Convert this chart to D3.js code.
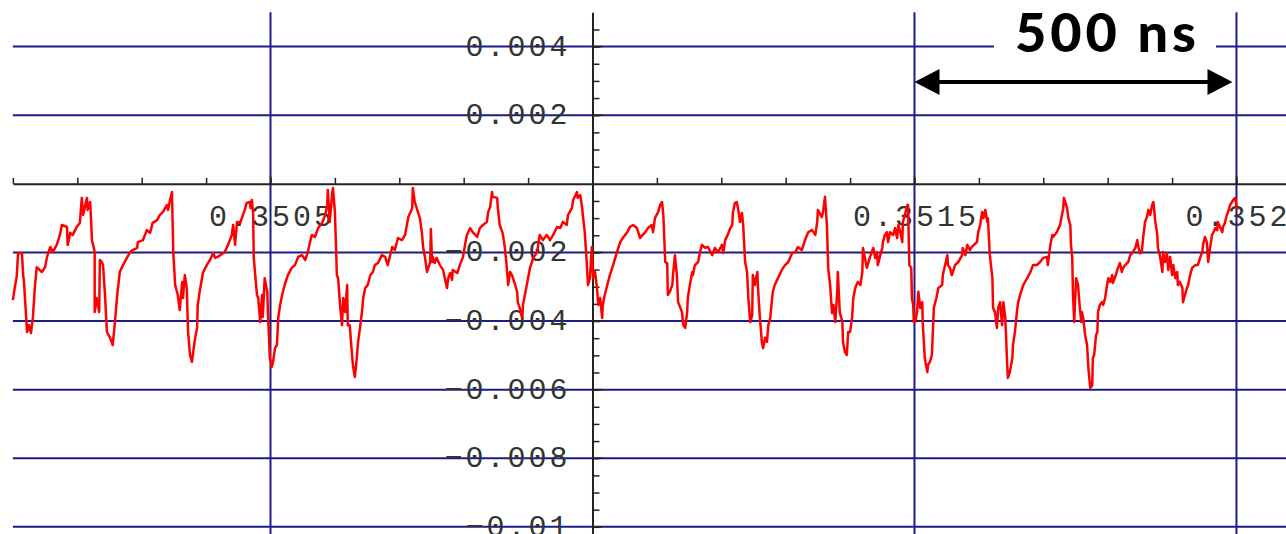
<!DOCTYPE html>
<html>
<head>
<meta charset="utf-8">
<script src="https://cdn.jsdelivr.net/npm/d3@7"></script>
<style>
  html, body { margin: 0; padding: 0; background: #fff; overflow: hidden; }
  svg { display: block; }
</style>
</head>
<body>
<svg id="scope"></svg>
<script>
// trace: [time in µs after t = 0.35 s, voltage in mV]
const trace = [
  [100,-3.39],[102,-3.13],[106,-2.69],[108,-2.02],[114,-2.02],[116,-2.69],[117,-2.80],[122,-4.32],[125,-4.12],[128,-4.35],
  [131,-3.91],[134,-3.04],[137,-2.43],[145,-2.57],[150,-2.43],[153,-2.13],[158,-1.84],[162,-1.99],[168,-1.78],[173,-1.49],
  [176,-1.20],[184,-1.26],[185,-1.78],[189,-1.43],[193,-1.49],[199,-1.26],[204,-1.14],[207,-0.41],[209,-0.91],[215,-0.41],
  [216,-0.76],[220,-0.53],[223,-1.70],[224,-1.73],[227,-1.99],[227,-3.74],[230,-3.33],[234,-3.74],[235,-2.22],[238,-2.28],
  [240,-2.37],[243,-3.24],[246,-4.32],[251,-4.49],[255,-4.70],[258,-4.12],[262,-3.24],[266,-2.57],[271,-2.37],[277,-2.16],
  [282,-1.99],[286,-1.93],[293,-1.87],[294,-1.70],[302,-1.64],[308,-1.35],[313,-1.43],[317,-1.14],[324,-1.06],[328,-0.91],
  [333,-0.82],[339,-0.62],[341,-0.76],[344,-0.47],[347,-0.24],[349,-1.99],[352,-2.95],[356,-3.24],[359,-3.68],[363,-2.86],
  [364,-3.33],[367,-2.66],[370,-3.04],[372,-4.32],[375,-4.99],[378,-5.19],[380,-4.90],[383,-4.49],[386,-4.20],[387,-3.53],
  [390,-3.15],[395,-2.60],[401,-2.37],[406,-2.22],[411,-2.02],
  [414,-2.16],[418,-2.13],[429,-1.99],[434,-1.78],[440,-1.49],[442,-1.20],[445,-1.78],[448,-1.11],[453,-1.14],[456,-0.97],
  [460,-0.76],[463,-0.56],[468,-0.53],[469,-0.71],[471,-0.47],[473,-0.85],[474,-2.16],[479,-3.24],[481,-3.33],[484,-4.03],
  [487,-3.24],[488,-3.88],[491,-2.75],[495,-3.15],[496,-3.74],[499,-5.08],[502,-5.34],[504,-5.19],[507,-4.79],[510,-4.70],
  [512,-3.91],[515,-3.53],[518,-3.24],[522,-2.95],[527,-2.66],[533,-2.45],[538,-2.37],[543,-2.13],[549,-2.08],[554,-2.22],
  [558,-1.99],[561,-1.73],[564,-1.49],[569,-1.55],[574,-1.29],[580,-1.14],[585,-0.91],[588,-0.62],[589,-0.18],[592,-1.11],
  [596,-0.24],[597,-0.12],[600,-0.82],[602,-1.99],[603,-2.66],[605,-2.75],[608,-3.53],[611,-4.12],[613,-3.33],[616,-3.74],
  [619,-2.95],[620,-4.12],[623,-4.12],[627,-5.08],[628,-5.28],[631,-5.63],[634,-5.08],[636,-4.61],[639,-4.20],[642,-3.74],
  [644,-3.33],[647,-3.04],[651,-2.95],[655,-2.66],[659,-2.57],[662,-2.37],[667,-2.31],[673,-2.08],[678,-2.13],[682,-2.37],
  [689,-1.84],[693,-1.93],[698,-1.58],[704,-1.64],[709,-1.49],[714,-0.97],[720,-0.71],[721,-0.12],[724,-0.53],[727,-0.71],
  [732,-1.00],[735,-1.41],[737,-1.84],[740,-2.16],[743,-2.57],[745,-2.45],[748,-2.28],
  [749,-1.32],[751,-2.28],[752,-2.13],[755,-2.31],[758,-2.16],[763,-2.37],[768,-2.51],[774,-3.04],[776,-2.75],[779,-2.60],
  [782,-2.80],[783,-2.51],[790,-2.60],[794,-2.37],[799,-2.13],[802,-1.78],[805,-1.49],[810,-1.29],[814,-1.41],[821,-1.55],
  [825,-1.29],[830,-1.20],[836,-1.11],[838,-0.82],[841,-0.68],[844,-0.24],[845,-0.38],[852,-0.41],[853,-0.71],[856,-1.20],
  [860,-1.41],[861,-1.49],[864,-1.87],[867,-2.45],[869,-2.95],[872,-2.57],[875,-2.66],[880,-2.95],[883,-3.15],[884,-3.45],
  [887,-3.62],[891,-3.91],[892,-3.53],[895,-3.24],[898,-2.95],[903,-2.45],[908,-2.16],[914,-1.99],[918,-1.49],[923,-1.64],
  [929,-1.49],[934,-1.64],[939,-1.49],[945,-1.26],[950,-1.29],[954,-1.11],[960,-1.20],[962,-0.91],[968,-0.71],[970,-0.47],
  [976,-0.24],[977,-0.41],[981,-0.33],[984,-0.71],[985,-0.91],[988,-1.41],[991,-2.28],[993,-2.95],[996,-2.75],[999,-1.84],
  [1001,-2.75],[1004,-2.57],[1007,-3.04],[1009,-3.53],[1012,-3.33],[1015,-3.91],[1016,-3.53],[1019,-3.24],[1023,-2.95],[1027,-2.66],
  [1032,-2.37],[1038,-1.99],[1043,-1.70],[1047,-1.58],[1054,-1.41],[1058,-1.26],[1063,-1.20],[1069,-1.29],[1074,-1.58],[1078,-1.49],
  [1082,-1.41],
  [1086,-1.29],[1092,-1.20],[1094,-1.41],[1097,-1.00],[1102,-0.82],[1105,-0.62],[1108,-0.53],[1110,-0.91],[1113,-2.28],[1116,-2.31],
  [1117,-3.24],[1120,-3.15],[1124,-2.95],[1125,-2.66],[1128,-2.08],[1131,-2.66],[1133,-3.45],[1139,-3.74],[1141,-4.12],[1144,-4.20],
  [1147,-3.74],[1148,-3.33],[1152,-2.86],[1155,-2.57],[1156,-2.66],[1159,-2.37],[1164,-2.28],[1167,-1.99],[1170,-1.78],[1175,-1.87],
  [1179,-1.84],[1186,-2.08],[1190,-1.87],[1195,-1.99],[1201,-1.78],[1203,-2.02],[1206,-1.64],[1210,-1.49],[1214,-1.29],[1217,-1.20],
  [1218,-0.85],[1221,-0.56],[1224,-0.53],[1226,-0.71],[1229,-1.11],[1232,-0.85],[1234,-1.20],[1237,-2.28],[1240,-2.57],[1242,-3.33],
  [1245,-4.03],[1248,-3.82],[1249,-2.66],[1252,-2.95],[1256,-2.57],[1257,-3.04],[1260,-3.91],[1263,-4.61],[1265,-4.79],[1268,-4.49],
  [1271,-4.61],[1273,-4.12],[1276,-3.91],[1279,-3.33],[1280,-3.15],[1283,-2.95],[1288,-2.75],[1294,-2.51],[1299,-2.37],[1304,-2.28],
  [1310,-2.02],[1315,-1.99],[1319,-1.84],[1325,-1.93],[1330,-1.64],[1335,-1.41],[1341,-1.35],[1346,-1.49],[1349,-1.11],[1350,-0.76],
  [1356,-0.97],[1358,-0.82],[1361,-0.38],[1364,-1.20],[1366,-2.45],[1369,-2.95],[1372,-3.77],[1374,-3.53],[1377,-4.03],[1380,-3.15],
  [1381,-2.57],[1384,-3.74],[1388,-4.03],[1389,-4.61],[1392,-4.90],[1395,-4.99],[1397,-4.32],[1400,-4.32],[1403,-3.91],[1405,-3.33],
  [1408,-3.04],[1412,-2.86],[1416,-2.95],
  [1419,-2.57],[1420,-1.87],[1426,-2.45],[1431,-2.13],[1436,-1.87],[1439,-2.16],[1442,-1.99],[1443,-2.37],[1447,-2.08],[1450,-1.87],
  [1451,-1.70],[1454,-1.49],[1457,-1.41],[1459,-1.70],[1462,-1.41],[1467,-1.49],[1470,-1.29],[1473,-1.58],[1475,-1.20],[1478,-1.41],
  [1481,-1.70],[1482,-1.11],[1485,-0.91],[1489,-0.62],[1490,-0.62],[1492,-2.37],[1495,-2.45],[1496,-3.33],[1498,-3.53],[1499,-4.03],
  [1501,-4.03],[1504,-3.74],[1506,-3.15],[1509,-3.62],[1512,-3.45],[1513,-4.12],[1516,-5.08],[1520,-5.49],[1521,-5.28],[1524,-5.19],
  [1527,-4.99],[1529,-4.12],[1530,-3.62],[1534,-3.33],[1537,-3.04],[1543,-2.95],[1544,-2.66],[1551,-2.08],[1552,-2.37],[1555,-2.45],
  [1558,-2.66],[1563,-2.37],[1568,-2.28],[1574,-2.08],[1575,-1.87],[1579,-2.08],[1582,-1.78],[1586,-1.93],[1589,-1.84],[1597,-1.70],
  [1599,-1.41],[1602,-1.20],[1605,-0.82],[1607,-1.00],[1610,-0.76],[1613,-1.11],[1614,-1.00],[1617,-2.08],[1621,-2.75],[1622,-3.62],
  [1625,-3.74],[1628,-4.20],[1630,-3.62],[1633,-3.45],[1636,-4.12],[1638,-3.45],[1641,-3.91],[1644,-5.28],[1645,-5.66],[1648,-5.49],
  [1652,-5.08],[1653,-4.70],[1656,-4.32],[1659,-3.74],[1661,-3.45],[1664,-3.24],[1669,-2.95],[1675,-2.75],[1680,-2.57],[1684,-2.37],
  [1690,-2.37],[1695,-2.28],[1700,-2.16],[1706,-2.13],[1707,-2.37],[1711,-1.78],[1714,-1.49],[1715,-1.55],[1721,-1.41],[1726,-1.20],
  [1729,-0.91],[1731,-0.71],[1732,-0.41],[1734,-0.53],[1737,-0.71],[1739,-1.00],[1742,-1.20],[1743,-1.78],[1745,-2.16],[1746,-3.15],
  [1748,-4.03],
  [1751,-2.75],[1754,-2.95],[1756,-3.45],[1759,-4.03],[1760,-3.74],[1762,-3.91],[1765,-4.41],[1768,-4.70],[1770,-5.37],[1773,-5.95],
  [1776,-5.87],[1777,-5.08],[1779,-4.99],[1782,-4.41],[1784,-4.32],[1785,-3.74],[1788,-3.53],[1791,-3.45],[1793,-3.53],[1796,-3.33],
  [1799,-2.95],[1801,-2.75],[1804,-2.86],[1807,-2.66],[1808,-2.89],[1811,-2.75],[1816,-2.45],[1819,-2.31],[1822,-2.57],[1824,-2.45],
  [1827,-2.37],[1832,-2.28],[1835,-2.08],[1839,-1.99],[1843,-1.87],[1846,-1.64],[1847,-1.78],[1850,-2.02],[1853,-1.99],[1855,-1.58],
  [1858,-1.11],[1861,-0.97],[1863,-0.76],[1866,-0.91],[1869,-0.62],[1871,-0.53],[1874,-1.11],[1877,-1.49],[1878,-1.87],[1881,-2.08],
  [1885,-2.57],[1886,-1.99],[1889,-2.28],[1892,-2.02],[1894,-2.51],[1897,-2.13],[1900,-2.66],[1902,-2.37],[1905,-2.75],[1908,-2.57],
  [1909,-2.95],[1912,-2.86],[1916,-3.04],[1917,-3.45],[1920,-3.24],[1923,-3.04],[1925,-2.95],[1928,-2.66],[1931,-2.45],[1936,-2.37],
  [1940,-2.37],[1944,-2.13],[1947,-1.99],[1948,-1.78],[1951,-1.55],[1954,-1.70],[1956,-2.28],[1959,-1.87],[1962,-1.49],[1964,-1.43],
  [1967,-1.29],[1970,-1.35],[1971,-1.11],[1978,-1.41],[1979,-1.26],[1982,-1.14],[1985,-0.91],[1987,-0.82],[1990,-0.62],[1993,-0.53],
  [1995,-0.47],[1998,-0.41],[2001,-0.76]
];

// x ticks (µs after 0.35 s) and their labels in seconds
const xMinorTicks = [100,200,300,400,500,600,700,800,900,1000,1100,1200,1300,1400,1500,1600,1700,1800,1900,2000];
const xGrid = [500, 1500, 2000];
const xLabels = ["0.3505", "0.3515", "0.352"];

// y ticks (mV) and their labels in volts
const yMinorTicks = [-10,-9.5,-9,-8.5,-8,-7.5,-7,-6.5,-6,-5.5,-5,-4.5,-4,-3.5,-3,-2.5,-2,-1.5,-1,-0.5,0.5,1,1.5,2,2.5,3,3.5,4,4.5];
const yGrid = [4, 2, -2, -4, -6, -8, -10];
const yLabels = ["0.004", "0.002", "\u22120.002", "\u22120.004", "\u22120.006", "\u22120.008", "\u22120.01"];

const spanText = "500 ns";
const spanEnds = [1500, 2000];

const width = 1286, height = 534;
const gridColor = "#1c1c88";
const axisColor = "#222";

const svg = d3.select("#scope")
  .attr("width", width)
  .attr("height", height);

const x = d3.scaleLinear().domain([100, 2076.9]).range([12.9, width]);
const y = d3.scaleLinear().domain([-10.2, 5]).range([533.7, 12.3]);

// grid lines
svg.append("g")
  .selectAll("line")
  .data(yGrid)
  .enter()
  .append("line")
  .attr("x1", x(100))
  .attr("x2", width)
  .attr("y1", d => y(d))
  .attr("y2", d => y(d))
  .attr("stroke", gridColor)
  .attr("stroke-width", 2);

svg.append("g")
  .selectAll("line")
  .data(xGrid)
  .enter()
  .append("line")
  .attr("x1", d => x(d))
  .attr("x2", d => x(d))
  .attr("y1", y(5))
  .attr("y2", height)
  .attr("stroke", gridColor)
  .attr("stroke-width", 2);

// axes through the origin (0.351 s, 0 V)
const xAxis = d3.axisTop(x)
  .tickValues(xMinorTicks)
  .tickSizeInner(6)
  .tickSizeOuter(0)
  .tickFormat("");

const yAxis = d3.axisRight(y)
  .tickValues(yMinorTicks)
  .tickSizeInner(7)
  .tickSizeOuter(0)
  .tickFormat("");

svg.append("g")
  .attr("transform", `translate(0, ${y(0)})`)
  .call(xAxis)
  .call(g => g.select(".domain").attr("stroke", axisColor).attr("stroke-width", 2))
  .call(g => g.selectAll(".tick line").attr("stroke", axisColor).attr("stroke-width", 1.5));

svg.append("g")
  .attr("transform", `translate(${x(1000)}, 0)`)
  .call(yAxis)
  .call(g => g.select(".domain").attr("stroke", axisColor).attr("stroke-width", 2))
  .call(g => g.selectAll(".tick line").attr("stroke", axisColor).attr("stroke-width", 1.5));

// longer major ticks
svg.append("g")
  .selectAll("line")
  .data(yGrid)
  .enter()
  .append("line")
  .attr("x1", x(1000))
  .attr("x2", x(1000) + 10)
  .attr("y1", d => y(d))
  .attr("y2", d => y(d))
  .attr("stroke", axisColor)
  .attr("stroke-width", 1.5);

svg.append("g")
  .selectAll("line")
  .data(xGrid)
  .enter()
  .append("line")
  .attr("x1", d => x(d))
  .attr("x2", d => x(d))
  .attr("y1", y(0))
  .attr("y2", y(0) - 8)
  .attr("stroke", axisColor)
  .attr("stroke-width", 1.5);

// tick labels
const labelFont = "'Liberation Mono', 'DejaVu Sans Mono', monospace";

svg.append("g")
  .selectAll("text")
  .data(xGrid)
  .enter()
  .append("text")
  .attr("x", d => x(d) + 1.5)
  .attr("y", y(0) + 42)
  .attr("text-anchor", "middle")
  .attr("font-family", labelFont)
  .attr("font-size", 30)
  .attr("letter-spacing", 3)
  .attr("fill", "#333")
  .text((d, i) => xLabels[i]);

svg.append("g")
  .selectAll("text")
  .data(yGrid)
  .enter()
  .append("text")
  .attr("x", x(1000) - 22)
  .attr("y", d => y(d) + 9)
  .attr("text-anchor", "end")
  .attr("font-family", labelFont)
  .attr("font-size", 30)
  .attr("letter-spacing", 3)
  .attr("fill", "#333")
  .text((d, i) => yLabels[i]);

// signal
const line = d3.line()
  .x(d => x(d[0]))
  .y(d => y(d[1]));

svg.append("path")
  .datum(trace)
  .attr("d", line)
  .attr("fill", "none")
  .attr("stroke", "#ff0000")
  .attr("stroke-width", 2.5)
  .attr("stroke-linejoin", "round");

// span annotation
const arrowY = 82;
const x0 = x(spanEnds[0]);
const x1 = x(spanEnds[1]) - 4;
const head = 25, half = 13;

svg.append("line")
  .attr("x1", x0 + head - 2)
  .attr("x2", x1 - head + 2)
  .attr("y1", arrowY)
  .attr("y2", arrowY)
  .attr("stroke", "#000")
  .attr("stroke-width", 4);

svg.append("path")
  .attr("d", `M${x0},${arrowY} L${x0 + head},${arrowY - half} L${x0 + head},${arrowY + half} Z`)
  .attr("fill", "#000");

svg.append("path")
  .attr("d", `M${x1},${arrowY} L${x1 - head},${arrowY - half} L${x1 - head},${arrowY + half} Z`)
  .attr("fill", "#000");

svg.append("rect")
  .attr("x", 994)
  .attr("y", 16)
  .attr("width", 222)
  .attr("height", 44)
  .attr("fill", "#fff");

svg.append("text")
  .attr("x", 1015)
  .attr("y", 52)
  .attr("font-family", "Lato, 'Open Sans', sans-serif")
  .attr("font-weight", 900)
  .attr("font-size", 54)
  .attr("textLength", 181)
  .attr("lengthAdjust", "spacing")
  .attr("fill", "#000")
  .text(spanText);
</script>
</body>
</html>
